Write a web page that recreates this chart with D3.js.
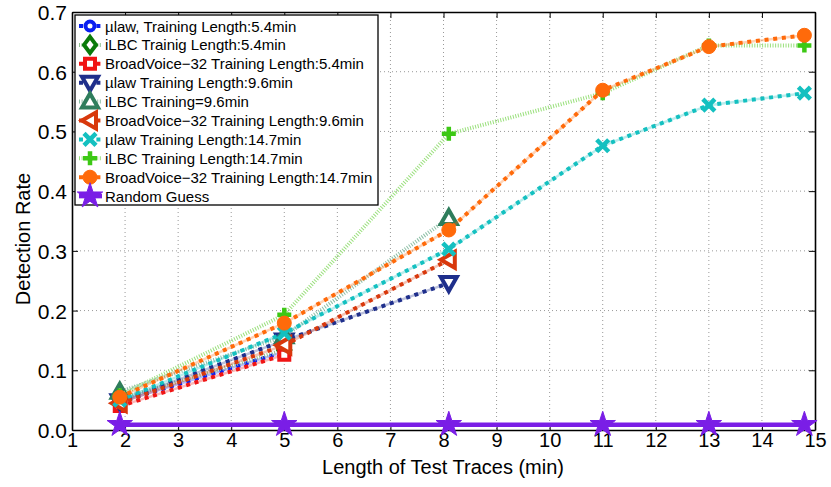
<!DOCTYPE html>
<html><head><meta charset="utf-8">
<script src="https://cdn.jsdelivr.net/npm/d3@7"></script>
<style>body{margin:0;background:#fff}svg{display:block}text{font-family:"Liberation Sans",Arial,sans-serif}</style>
</head><body>
<svg id="c" width="831" height="487"></svg>
<script>
const xTicks = [1,2,3,4,5,6,7,8,9,10,11,12,13,14,15];
const yTicks = [0,0.1,0.2,0.3,0.4,0.5,0.6,0.7];
const yTickLabels = ["0.0","0.1","0.2","0.3","0.4","0.5","0.6","0.7"];
const traceLengths = [1.9, 5.0, 8.1, 11.0, 13.0, 14.8];

const seriesNames = [
  "\u00b5law, Training Length:5.4min",
  "iLBC Trainig Length:5.4min",
  "BroadVoice\u221232 Training Length:5.4min",
  "\u00b5law Training Length:9.6min",
  "iLBC Training=9.6min",
  "BroadVoice\u221232 Training Length:9.6min",
  "\u00b5law Training Length:14.7min",
  "iLBC Training Length:14.7min",
  "BroadVoice\u221232 Training Length:14.7min",
  "Random Guess"
];
const mulaw54 = [0.047, 0.131];
const ilbc54 = [0.052, 0.134];
const bv54 = [0.040, 0.126];
const mulaw96 = [0.048, 0.150, 0.246];
const ilbc96 = [0.064, 0.157, 0.355];
const bv96 = [0.045, 0.142, 0.285];
const mulaw147 = [0.050, 0.162, 0.303, 0.476, 0.544, 0.564];
const ilbc147 = [0.058, 0.193, 0.496, 0.564, 0.644, 0.644];
const bv147 = [0.055, 0.179, 0.335, 0.569, 0.642, 0.661];
const randomGuess = [0.009, 0.009, 0.009, 0.009, 0.009, 0.009];

const seriesValues = [mulaw54, ilbc54, bv54, mulaw96, ilbc96, bv96, mulaw147, ilbc147, bv147, randomGuess];
const colors = ["#0a1ef0","#0a7a0a","#f01414","#1f2f8c","#2e7d5c","#d8380c","#14c0c0","#3cc814","#ff6a0a","#7a1ee6"];
const lineColors = ["#0a1ef0","#8fc08f","#f01414","#1f2f8c","#8cbfa6","#d8380c","#14c0c0","#9ae07c","#ff6a0a","#7a1ee6"];
const markers = ["circle","diamond","square","tridown","triup","trileft","cross","plus","dot","star"];
const styles = ["dot","fine","dot","dot","fine","dot","dot","fine","dot","solid"];

const svg = d3.select("#c");
const L=72,R=815,T=12,B=430;
const x = d3.scaleLinear().domain([1,15]).range([L,R]);
const y = d3.scaleLinear().domain([0,0.7]).range([B,T]);

// grid
const g = svg.append("g");
g.selectAll(".gx").data(xTicks.slice(1,-1)).join("line")
 .attr("x1",d=>x(d)).attr("x2",d=>x(d)).attr("y1",T).attr("y2",B)
 .attr("stroke","#999").attr("stroke-width",1).attr("stroke-dasharray","1,3");
g.selectAll(".gy").data(yTicks.slice(1,-1)).join("line")
 .attr("x1",L).attr("x2",R).attr("y1",d=>y(d)).attr("y2",d=>y(d))
 .attr("stroke","#999").attr("stroke-width",1).attr("stroke-dasharray","1,3");

// axes
const fmt = d=>yTickLabels[yTicks.indexOf(d)];
const axL = svg.append("g").attr("transform",`translate(${L},0)`).call(d3.axisLeft(y).tickValues(yTicks).tickFormat(fmt).tickSizeInner(-6).tickSizeOuter(0).tickPadding(5));
const axB = svg.append("g").attr("transform",`translate(0,${B})`).call(d3.axisBottom(x).tickValues(xTicks).tickFormat(d3.format("d")).tickSizeInner(-6).tickSizeOuter(0).tickPadding(3));
const axR = svg.append("g").attr("transform",`translate(${R},0)`).call(d3.axisRight(y).tickValues(yTicks).tickFormat("").tickSizeInner(-6).tickSizeOuter(0));
const axT = svg.append("g").attr("transform",`translate(0,${T})`).call(d3.axisTop(x).tickValues(xTicks).tickFormat("").tickSizeInner(-6).tickSizeOuter(0));
[axL,axB,axR,axT].forEach(a=>{a.select(".domain").attr("stroke","#000").attr("stroke-width",1.6);a.selectAll(".tick line").attr("stroke","#000").attr("stroke-width",1);a.selectAll("text").attr("fill","#000").style("font-family","'Liberation Sans',Arial,sans-serif");});
axL.selectAll("text").attr("font-size",21).attr("dy","0.36em");
axB.selectAll("text").attr("font-size",20).attr("dy","0.72em");

svg.append("text").attr("x",443).attr("y",474).attr("text-anchor","middle").attr("font-size",20).text("Length of Test Traces (min)");
svg.append("text").attr("transform","translate(30,239) rotate(-90)").attr("text-anchor","middle").attr("font-size",20).text("Detection Rate");

function markerPath(sel, type, color){
  if(type==="circle") sel.append("circle").attr("r",4.5).attr("fill","#fff").attr("stroke",color).attr("stroke-width",4);
  else if(type==="dot") sel.append("circle").attr("r",7).attr("fill",color).attr("stroke",color).attr("stroke-width",1);
  else if(type==="diamond") sel.append("path").attr("d","M0,-8L6,0L0,8L-6,0Z").attr("fill","#fff").attr("stroke",color).attr("stroke-width",4);
  else if(type==="square") sel.append("path").attr("d","M-5,-5H5V5H-5Z").attr("fill","#fff").attr("stroke",color).attr("stroke-width",4);
  else if(type==="tridown") sel.append("path").attr("d","M-8,-6H8L0,8Z").attr("fill","#fff").attr("stroke",color).attr("stroke-width",4).attr("stroke-linejoin","miter");
  else if(type==="triup") sel.append("path").attr("d","M-8,6H8L0,-8Z").attr("fill","#fff").attr("stroke",color).attr("stroke-width",4);
  else if(type==="trileft") sel.append("path").attr("d","M6,-8V8L-8,0Z").attr("fill","#fff").attr("stroke",color).attr("stroke-width",4);
  else if(type==="cross") sel.append("path").attr("d","M-6,-6L6,6M-6,6L6,-6").attr("stroke",color).attr("stroke-width",4.5).attr("fill","none");
  else if(type==="plus") sel.append("path").attr("d","M-7,0H7M0,-7V7").attr("stroke",color).attr("stroke-width",4.5).attr("fill","none");
  else if(type==="star") sel.append("path").attr("d",d3.symbol(d3.symbolStar,200)()).attr("fill",color).attr("stroke",color).attr("stroke-width",1);
}
function styleLine(sel, i){
  const st = styles[i];
  sel.attr("fill","none").attr("stroke",lineColors[i]);
  if(st==="dot") sel.attr("stroke-width",4).attr("stroke-dasharray","4,4.7");
  else if(st==="fine") sel.attr("stroke-width",4).attr("stroke-dasharray","1,1.6");
  else sel.attr("stroke-width",4.5);
}

const line = d3.line().x(d=>x(d[0])).y(d=>y(d[1]));
seriesValues.forEach((vals,i)=>{
  const pts = vals.map((v,k)=>[traceLengths[k],v]);
  const sg = svg.append("g");
  if(styles[i]==="dot") sg.append("path").attr("d",line(pts)).attr("fill","none").attr("stroke",lineColors[i]).attr("stroke-width",2.5).attr("stroke-opacity",0.3);
  styleLine(sg.append("path").attr("d",line(pts)), i);
  pts.forEach(p=>{ const m = sg.append("g").attr("transform",`translate(${x(p[0])},${y(p[1])})`); markerPath(m, markers[i], colors[i]); });
});

// legend
const lg = svg.append("g");
lg.append("rect").attr("x",75).attr("y",15).attr("width",303).attr("height",190).attr("fill","#fff").attr("stroke","#000").attr("stroke-width",1.3);
seriesNames.forEach((n,i)=>{
  const yy = 26 + i*18.9;
  const ln = lg.append("line").attr("x1",79).attr("x2",102).attr("y1",yy).attr("y2",yy);
  styleLine(ln,i);
  const m = lg.append("g").attr("transform",`translate(90,${yy})`); markerPath(m, markers[i], colors[i]);
  lg.append("text").attr("x",105).attr("y",yy+5.5).attr("font-size",15).attr("textLength",null).text(n);
});
</script>
</body></html>
